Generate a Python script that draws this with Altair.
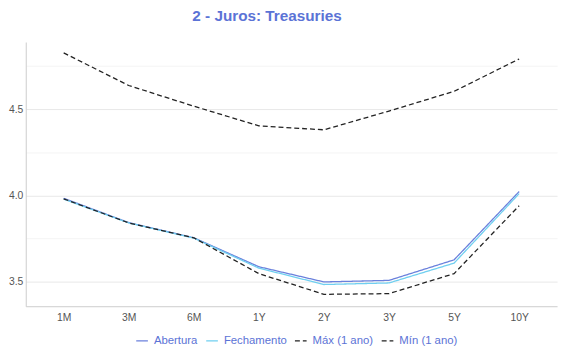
import altair as alt
import pandas as pd

vertices = ["1M", "3M", "6M", "1Y", "2Y", "3Y", "5Y", "10Y"]
abertura = [3.983, 3.842, 3.754, 3.586, 3.498, 3.507, 3.626, 4.022]
fechamento = [3.978, 3.840, 3.752, 3.578, 3.483, 3.492, 3.607, 4.010]
maximo = [4.826, 4.637, 4.517, 4.403, 4.380, 4.489, 4.603, 4.791]
minimo = [3.980, 3.840, 3.754, 3.546, 3.426, 3.430, 3.546, 3.940]

series_names = ["Abertura", "Fechamento", "Máx (1 ano)", "Mín (1 ano)"]
series_values = [abertura, fechamento, maximo, minimo]
series_colors = ["#6a80dc", "#6fcff0", "#222222", "#222222"]
series_dash = [[1, 0], [1, 0], [5, 3], [5, 3]]

rows = []
for name, vals in zip(series_names, series_values):
    for v, val in zip(vertices, vals):
        rows.append({"Vértice": v, "Taxa": val, "Série": name})
df = pd.DataFrame(rows)

label_color = "#5b73d6"

legend = alt.Legend(title=None, orient="none", legendX=111, legendY=296,
                    direction="horizontal",
                    symbolType="stroke", labelColor=label_color,
                    labelFontSize=11.5, labelFont="Liberation Sans",
                    symbolSize=140, symbolStrokeWidth=1.3, labelOffset=5,
                    columnPadding=5)

chart = alt.Chart(df).mark_line(strokeWidth=1.3).encode(
    x=alt.X("Vértice:N", sort=vertices,
            scale=alt.Scale(type="point", padding=0.583),
            axis=alt.Axis(title=None, labelAngle=0, ticks=False, grid=False,
                          domainColor="#cccccc", labelColor="#555555",
                          labelFontSize=10.5, labelPadding=6, labelFont="Liberation Sans")),
    y=alt.Y("Taxa:Q",
            scale=alt.Scale(domain=[3.357, 4.889], nice=False, zero=False),
            axis=alt.Axis(title=None, values=[3.5, 3.75, 4.0, 4.25, 4.5, 4.75],
                          labelExpr="datum.value % 0.5 == 0 ? format(datum.value, '.1f') : ''",
                          ticks=False, domainColor="#cccccc", labelColor="#555555",
                          labelFontSize=10.5, labelPadding=3, labelFont="Liberation Sans",
                          gridColor={"condition": {"test": "datum.value % 0.5 == 0", "value": "#e8e8e8"},
                                     "value": "#f4f4f4"})),
    color=alt.Color("Série:N", sort=series_names,
                    scale=alt.Scale(domain=series_names, range=series_colors),
                    legend=legend),
    strokeDash=alt.StrokeDash("Série:N", sort=series_names,
                              scale=alt.Scale(domain=series_names, range=series_dash),
                              legend=legend),
).properties(
    width=539,
    height=268,
    title=alt.TitleParams("2 - Juros: Treasuries", anchor="start", frame="group", dx=169,
                          fontSize=15.5, font="Liberation Sans", fontWeight="bold",
                          color=label_color, offset=18),
    autosize=alt.AutoSizeParams(type="none"),
    padding={"left": 18, "top": 32, "right": 5, "bottom": 52},
).configure(background="white").configure_view(stroke=None)

chart.save("out.html", embed_options={"renderer": "svg", "actions": False})
